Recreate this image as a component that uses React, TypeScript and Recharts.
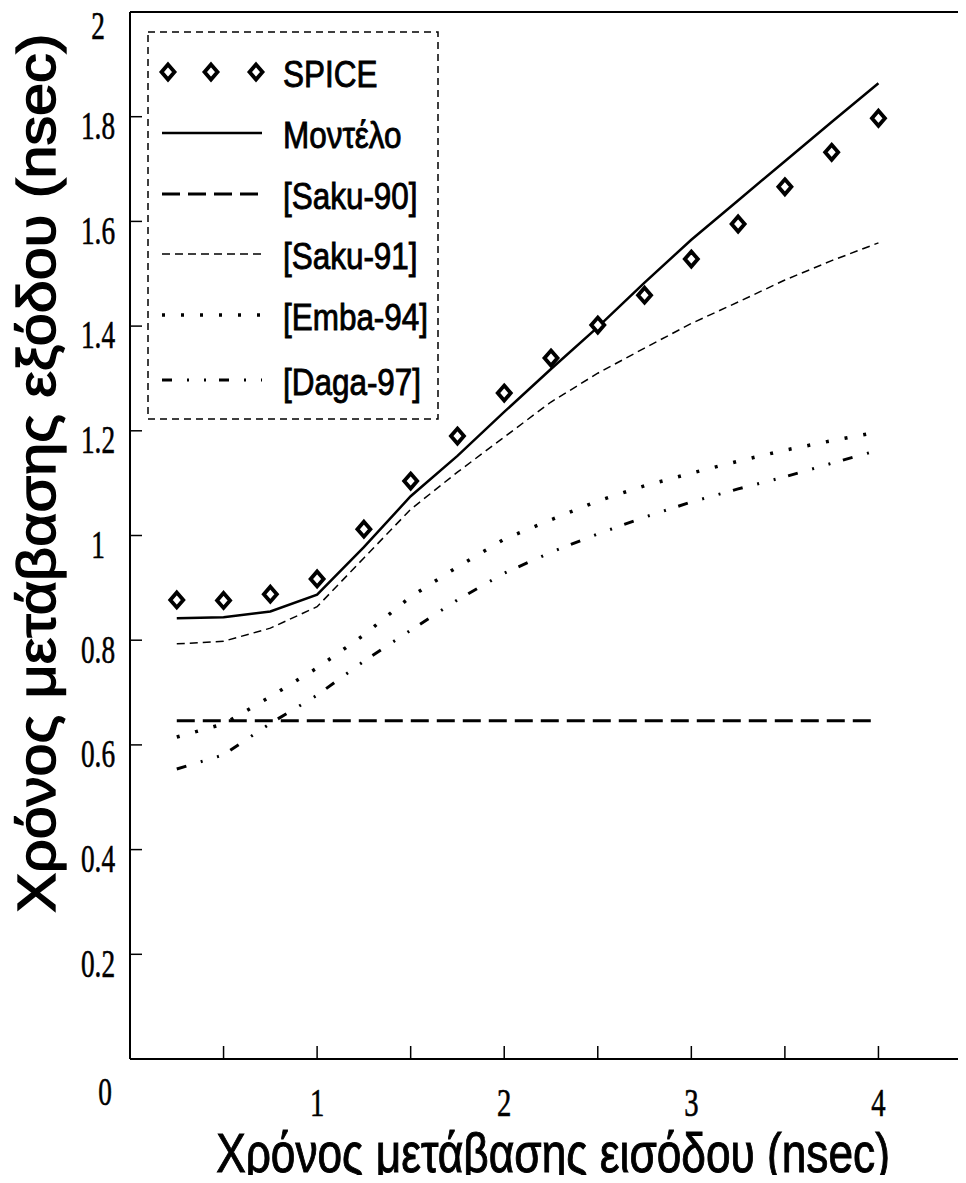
import React from "react";
import { ComposedChart, Line, Scatter, XAxis, YAxis, Legend } from "recharts";

// input transition time (nsec)
const xs = [0.25, 0.5, 0.75, 1.0, 1.25, 1.5, 1.75, 2.0, 2.25, 2.5, 2.75, 3.0, 3.25, 3.5, 3.75, 4.0];

// output transition time (nsec), one array per curve
const spice = [0.877, 0.876, 0.888, 0.917, 1.012, 1.104, 1.19, 1.272, 1.339, 1.402, 1.459, 1.528, 1.595, 1.666, 1.732, 1.797];
const model = [0.842, 0.844, 0.855, 0.887, 0.978, 1.075, 1.152, 1.236, 1.318, 1.398, 1.483, 1.565, 1.64, 1.715, 1.79, 1.864];
const saku90 = [0.646, 0.646, 0.646, 0.646, 0.646, 0.646, 0.646, 0.646, 0.646, 0.646, 0.646, 0.646, 0.646, 0.646, 0.646, 0.646];
const saku91 = [0.793, 0.798, 0.823, 0.864, 0.957, 1.05, 1.121, 1.188, 1.255, 1.31, 1.358, 1.405, 1.446, 1.488, 1.525, 1.559];
const emba94 = [0.615, 0.64, 0.692, 0.747, 0.81, 0.883, 0.94, 0.993, 1.03, 1.066, 1.095, 1.119, 1.142, 1.163, 1.181, 1.198];
const daga97 = [0.554, 0.581, 0.641, 0.695, 0.76, 0.819, 0.877, 0.928, 0.968, 1.003, 1.035, 1.064, 1.089, 1.112, 1.138, 1.163];

const xTicks = [0.5, 1, 1.5, 2, 2.5, 3, 3.5, 4, 4.5];
const yTicks = [0, 0.2, 0.4, 0.6, 0.8, 1, 1.2, 1.4, 1.6, 1.8, 2];

const legendNames = ["SPICE", "Μοντέλο", "[Saku-90]", "[Saku-91]", "[Emba-94]", "[Daga-97]"];

const xTitle = "Χρόνος μετάβασης εισόδου (nsec)";
const yTitle = "Χρόνος μετάβασης εξόδου (nsec)";

const data = xs.map((x, i) => ({
  x,
  spice: spice[i],
  model: model[i],
  saku90: saku90[i],
  saku91: saku91[i],
  emba94: emba94[i],
  daga97: daga97[i],
}));

const SERIF = "'Liberation Serif', 'Times New Roman', serif";
const SANS = "'Liberation Sans', Arial, sans-serif";

// line styles: dasharray + width
const STYLES: Record<string, { dash?: string; w: number }> = {
  "Μοντέλο": { w: 2.5 },
  "[Saku-90]": { dash: "18 8", w: 3 },
  "[Saku-91]": { dash: "8 5", w: 1.5 },
  "[Emba-94]": { dash: "3 16", w: 3.5 },
  "[Daga-97]": { dash: "10 15 2 15 2 13", w: 3 },
};

function Diamond({ cx, cy }: { cx?: number; cy?: number }) {
  if (cx == null || cy == null) return null;
  return (
    <polygon
      points={`${cx},${cy - 7.5} ${cx + 6.5},${cy} ${cx},${cy + 7.5} ${cx - 6.5},${cy}`}
      fill="#fff"
      stroke="#000"
      strokeWidth={3.8}
    />
  );
}

function fmt(v: number) {
  return Number.isInteger(v) ? String(v) : v.toFixed(1);
}

function YTick(props: any) {
  const { x, y, payload } = props;
  const v = payload.value as number;
  let dx = 0;
  let dy = 9;
  if (v === 0) { dx = 7; dy = 33; }
  if (v === 2) dy = 14;
  return (
    <text
      transform={`translate(${x + dx},${y + dy}) scale(0.7,1)`}
      textAnchor="middle"
      dominantBaseline="central"
      fontFamily={SERIF}
      fontSize={39}
      fill="#000"
      stroke="#000"
      strokeWidth={0.6}
    >
      {fmt(v)}
    </text>
  );
}

function XTick(props: any) {
  const { x, y, payload } = props;
  const v = payload.value as number;
  if (!Number.isInteger(v)) return null;
  return (
    <text
      transform={`translate(${x},${y}) scale(0.7,1)`}
      textAnchor="middle"
      dominantBaseline="central"
      fontFamily={SERIF}
      fontSize={41}
      fill="#000"
      stroke="#000"
      strokeWidth={0.6}
    >
      {fmt(v)}
    </text>
  );
}

const ROW_Y = [41, 102, 163, 223, 284, 349];

function LegendBox() {
  return (
    <svg width={292} height={390} style={{ display: "block" }}>
      <rect x={1} y={1} width={290} height={387} fill="#fff" stroke="#000" strokeWidth={1.5} strokeDasharray="7 5" />
      {legendNames.map((name, i) => {
        const cy = ROW_Y[i];
        const st = STYLES[name];
        return (
          <g key={name}>
            {i === 0 ? (
              <>
                <Diamond cx={21} cy={cy} />
                <Diamond cx={64} cy={cy} />
                <Diamond cx={109} cy={cy} />
              </>
            ) : (
              <line x1={15} x2={115} y1={cy} y2={cy} stroke="#000" strokeWidth={st.w} strokeDasharray={st.dash} />
            )}
            <text
              transform={`translate(136,${cy + 15}) scale(0.85,1)`}
              fontFamily={SANS}
              fontSize={37}
              fill="#000"
              stroke="#000"
              strokeWidth={0.9}
            >
              {name}
            </text>
          </g>
        );
      })}
    </svg>
  );
}

const axisLine = { stroke: "#000", strokeWidth: 2 };
const tickLine = { stroke: "#000", strokeWidth: 1.5 };

export default function App() {
  return (
    <div style={{ margin: -8, width: 966, height: 1183, overflow: "hidden", position: "relative", background: "#fff" }}>
      <ComposedChart
        width={980}
        height={1183}
        data={data}
        margin={{ top: 11, right: 7, bottom: 123, left: 129 }}
      >
        <XAxis
          dataKey="x"
          type="number"
          domain={[0, 4.5]}
          ticks={xTicks}
          height={1}
          tickSize={-13}
          tickMargin={56}
          tick={<XTick />}
          axisLine={axisLine}
          tickLine={tickLine}
          interval={0}
          label={{
            content: () => (
              <text
                transform="translate(553,1172) scale(0.79,1)"
                textAnchor="middle"
                fontFamily={SANS}
                fontSize={56}
                fill="#000"
                stroke="#000"
                strokeWidth={1}
              >
                {xTitle}
              </text>
            ),
          }}
        />
        <XAxis
          xAxisId="top"
          orientation="top"
          dataKey="x"
          type="number"
          domain={[0, 4.5]}
          ticks={xTicks}
          height={1}
          tickSize={-12}
          tick={false}
          axisLine={axisLine}
          tickLine={tickLine}
          interval={0}
        />
        <YAxis
          type="number"
          domain={[0, 2]}
          ticks={yTicks}
          width={1}
          tickSize={-12}
          tickMargin={44}
          tick={<YTick />}
          axisLine={axisLine}
          tickLine={tickLine}
          interval={0}
          label={{
            content: () => (
              <text
                transform="translate(55,473) rotate(-90) scale(1.12,1)"
                textAnchor="middle"
                fontFamily={SANS}
                fontSize={53}
                fill="#000"
                stroke="#000"
                strokeWidth={1.4}
              >
                {yTitle}
              </text>
            ),
          }}
        />
        <YAxis
          yAxisId="right"
          orientation="right"
          type="number"
          domain={[0, 2]}
          ticks={yTicks}
          width={1}
          tickSize={-12}
          tick={false}
          axisLine={axisLine}
          tickLine={tickLine}
          interval={0}
        />
        <Legend
          layout="vertical"
          align="center"
          verticalAlign="middle"
          wrapperStyle={{ left: 147, top: 31, width: 292, height: 390 }}
          content={() => <LegendBox />}
        />
        <Line dataKey="saku90" name="[Saku-90]" type="linear" stroke="#000" strokeWidth={STYLES["[Saku-90]"].w} strokeDasharray={STYLES["[Saku-90]"].dash} dot={false} isAnimationActive={false} />
        <Line dataKey="saku91" name="[Saku-91]" type="linear" stroke="#000" strokeWidth={STYLES["[Saku-91]"].w} strokeDasharray={STYLES["[Saku-91]"].dash} dot={false} isAnimationActive={false} />
        <Line dataKey="emba94" name="[Emba-94]" type="linear" stroke="#000" strokeWidth={STYLES["[Emba-94]"].w} strokeDasharray={STYLES["[Emba-94]"].dash} dot={false} isAnimationActive={false} />
        <Line dataKey="daga97" name="[Daga-97]" type="linear" stroke="#000" strokeWidth={STYLES["[Daga-97]"].w} strokeDasharray={STYLES["[Daga-97]"].dash} dot={false} isAnimationActive={false} />
        <Line dataKey="model" name="Μοντέλο" type="linear" stroke="#000" strokeWidth={STYLES["Μοντέλο"].w} dot={false} isAnimationActive={false} />
        <Scatter dataKey="spice" name="SPICE" shape={<Diamond />} isAnimationActive={false} />
      </ComposedChart>
    </div>
  );
}
